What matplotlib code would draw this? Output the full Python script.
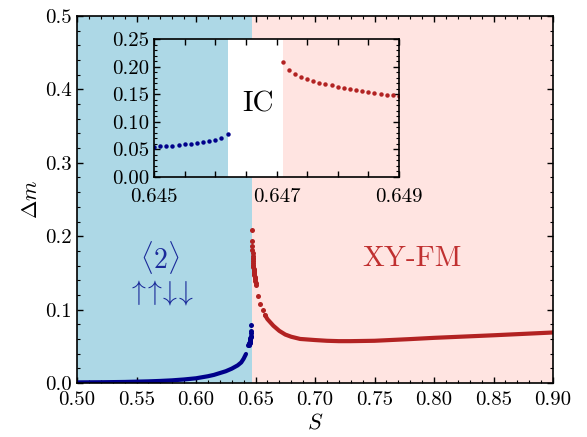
import matplotlib
matplotlib.use("Agg")
import matplotlib.pyplot as plt
from matplotlib.ticker import MultipleLocator, FixedLocator, FormatStrFormatter

plt.rcParams["font.family"] = "serif"
plt.rcParams["font.serif"] = ["cmr10"]
plt.rcParams["mathtext.fontset"] = "cm"
plt.rcParams["axes.unicode_minus"] = False
plt.rcParams["axes.formatter.use_mathtext"] = True

# <2> phase (uudd), smooth part of the curve
s_uudd = [0.500, 0.520, 0.540, 0.550, 0.560, 0.570, 0.580, 0.590, 0.600, 0.610,
          0.615, 0.620, 0.625, 0.630, 0.635, 0.638, 0.640, 0.642]
dm_uudd = [0.0008, 0.0010, 0.0014, 0.0018, 0.0022, 0.0028, 0.0036, 0.0048, 0.0064, 0.0092,
           0.0110, 0.0135, 0.0160, 0.0195, 0.0240, 0.0280, 0.0330, 0.0395]
# <2> phase, points close to the transition
s_uudd_fine = [0.6440, 0.6442, 0.6444, 0.6446, 0.6448,
               0.6450, 0.6451, 0.6452, 0.6453, 0.6454, 0.6455, 0.6456, 0.6457,
               0.6458, 0.6459, 0.6460, 0.6461, 0.6462]
dm_uudd_fine = [0.0518, 0.0524, 0.0530, 0.0536, 0.0542,
                0.0549, 0.0555, 0.0562, 0.0568, 0.0580, 0.0592, 0.0604, 0.0616,
                0.0628, 0.0646, 0.0676, 0.0707, 0.0785]

# XY-FM phase, points close to the transition
s_fm_fine = [0.6471, 0.6472, 0.6473, 0.6474, 0.6475, 0.6476, 0.6477, 0.6478, 0.6479, 0.6480,
             0.6481, 0.6482, 0.6483, 0.6484, 0.6485, 0.6486, 0.6487, 0.6488, 0.6489, 0.6490,
             0.6492, 0.6494, 0.6496, 0.6498, 0.6500, 0.6502,
             0.652, 0.654, 0.656, 0.658]
dm_fm_fine = [0.2083, 0.1932, 0.1866, 0.1812, 0.1769, 0.1733, 0.1709, 0.1685, 0.1661, 0.1636,
              0.1612, 0.1594, 0.1576, 0.1558, 0.1540, 0.1522, 0.1510, 0.1492, 0.1480, 0.1467,
              0.1450, 0.1430, 0.1410, 0.1390, 0.1360, 0.1335,
              0.1185, 0.1076, 0.1000, 0.0926]
# XY-FM phase, smooth part
s_fm = [0.658, 0.660, 0.665, 0.670, 0.675, 0.680, 0.6875, 0.700, 0.710, 0.720,
        0.730, 0.750, 0.780, 0.800, 0.850, 0.900]
dm_fm = [0.0926, 0.0870, 0.0780, 0.0710, 0.0660, 0.0630, 0.0600, 0.0585, 0.0575, 0.0570,
         0.0570, 0.0575, 0.0598, 0.0615, 0.0650, 0.0688]

s_min, s_max = 0.50, 0.90
s_boundary = 0.6471
s_inset_lo, s_inset_hi = 0.645, 0.649
s_ic_lo, s_ic_hi = 0.6462, 0.6471

blue_bg = "#add8e6"
red_bg = "#ffe4e1"
blue = "#00008b"
red = "#b22222"

fig = plt.figure(figsize=(5.87, 4.37), dpi=100)
ax = fig.add_axes([0.1312, 0.1236, 0.8109, 0.8398])

ax.axvspan(s_min, s_boundary, color=blue_bg, lw=0, zorder=0)
ax.axvspan(s_boundary, s_max, color=red_bg, lw=0, zorder=0)

ax.plot(s_uudd, dm_uudd, "-", color=blue, lw=3.0, solid_capstyle="round")
ax.plot(s_uudd_fine, dm_uudd_fine, "o", color=blue, ms=3.6, mew=0)
ax.plot(s_fm_fine, dm_fm_fine, "o", color=red, ms=3.6, mew=0)
ax.plot(s_fm, dm_fm, "-", color=red, lw=3.0, solid_capstyle="round")

ax.set_xlim(s_min, s_max)
ax.set_ylim(0, 0.5)
ax.xaxis.set_major_locator(MultipleLocator(0.05))
ax.xaxis.set_minor_locator(MultipleLocator(0.01))
ax.yaxis.set_major_locator(MultipleLocator(0.1))
ax.yaxis.set_minor_locator(MultipleLocator(0.02))
ax.xaxis.set_major_formatter(FormatStrFormatter("%.2f"))
ax.yaxis.set_major_formatter(FormatStrFormatter("%.1f"))
ax.tick_params(which="both", direction="in", top=True, right=True, labelsize=15)
ax.tick_params(which="major", length=4, width=1)
ax.tick_params(which="minor", length=2.5, width=0.8)
ax.tick_params(axis="x", pad=6)
for sp in ax.spines.values():
    sp.set_linewidth(1.2)
ax.set_xlabel(r"$S$", fontsize=16, labelpad=2)
ax.set_ylabel(r"$\Delta m$", fontsize=16, labelpad=3)

ax.text(0.5698, 0.171, r"$\langle 2\rangle$", color="#1a2a9a", fontsize=20,
        ha="center", va="center")
ax.text(0.5698, 0.123, r"$\uparrow\!\!\uparrow\!\!\downarrow\!\!\downarrow$",
        color="#1a2a9a", fontsize=20, ha="center", va="center")
ax.text(0.7818, 0.1685, "XY-FM", color="#c03030", fontsize=21, ha="center", va="center")

# inset
axin = fig.add_axes([0.2624, 0.595, 0.4173, 0.3158])
axin.axvspan(s_inset_lo, s_ic_lo, color=blue_bg, lw=0, zorder=0)
axin.axvspan(s_ic_hi, s_inset_hi, color=red_bg, lw=0, zorder=0)
axin.plot(s_uudd_fine, dm_uudd_fine, "o", color=blue, ms=3.2, mew=0)
axin.plot(s_fm_fine, dm_fm_fine, "o", color=red, ms=3.2, mew=0)
axin.text(0.6467, 0.131, "IC", fontsize=21, ha="center", va="center")
axin.set_xlim(s_inset_lo, s_inset_hi)
axin.set_ylim(0, 0.25)
axin.xaxis.set_major_locator(FixedLocator([0.645, 0.6455, 0.646, 0.6465, 0.647,
                                           0.6475, 0.648, 0.6485, 0.649]))
axin.xaxis.set_major_formatter(lambda v, p: f"{v:.3f}" if p % 4 == 0 else "")
axin.yaxis.set_major_locator(MultipleLocator(0.05))
axin.yaxis.set_minor_locator(MultipleLocator(0.01))
axin.yaxis.set_major_formatter(FormatStrFormatter("%.2f"))
axin.tick_params(which="both", direction="in", top=True, right=True, labelsize=15)
axin.tick_params(which="major", length=4, width=1)
axin.tick_params(which="minor", length=2.5, width=0.8)
axin.tick_params(axis="x", pad=8)
for sp in axin.spines.values():
    sp.set_linewidth(1.2)

fig.savefig("out.png", dpi=100)
